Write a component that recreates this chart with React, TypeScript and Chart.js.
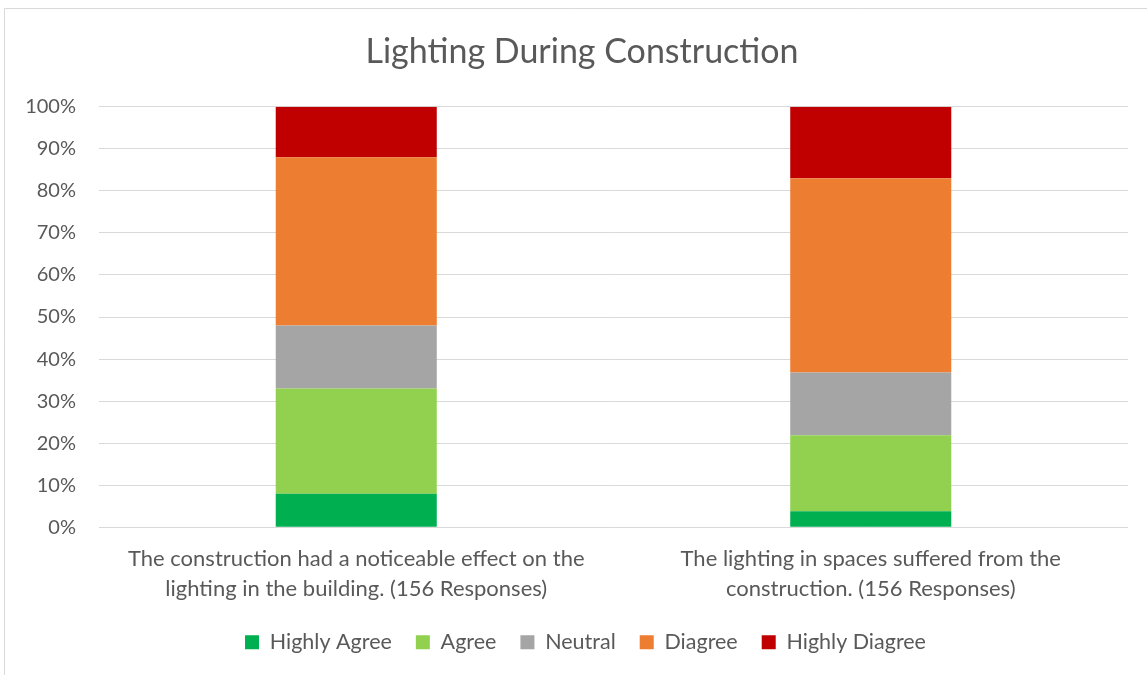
import React, { useEffect, useRef } from "react";
import { Chart, registerables } from "chart.js";

Chart.register(...registerables);

const categories: string[][] = [
  ["The construction had a noticeable effect on the", "lighting in the building. (156 Responses)"],
  ["The lighting in spaces suffered from the", "construction. (156 Responses)"],
];

const seriesNames = ["Highly Agree", "Agree", "Neutral", "Diagree", "Highly Diagree"];
const highlyAgree = [8, 3.8];
const agree = [25, 18.1];
const neutral = [15, 14.9];
const diagree = [40, 46.2];
const highlyDiagree = [12, 17.0];
const seriesColors = ["#00B050", "#92D050", "#A5A5A5", "#ED7D31", "#C00000"];
const yTicks = [0, 10, 20, 30, 40, 50, 60, 70, 80, 90, 100];

const FONT = "Lato, 'Open Sans', sans-serif";
const TEXT = "#595959";

const borderPlugin = {
  id: "frameBorder",
  beforeDraw(chart: any) {
    const ctx = chart.ctx;
    ctx.save();
    ctx.strokeStyle = "#d9d9d9";
    ctx.lineWidth = 1;
    ctx.beginPath();
    ctx.moveTo(4.5, chart.height);
    ctx.lineTo(4.5, 8.5);
    ctx.lineTo(chart.width, 8.5);
    ctx.stroke();
    ctx.restore();
  },
  afterLayout(chart: any) {
    if (chart.legend) {
      chart.legend.left = 43;
    }
    if (chart.titleBlock) {
      chart.titleBlock.left = 36;
    }
  },
};

export default function App() {
  const ref = useRef<HTMLCanvasElement | null>(null);
  useEffect(() => {
    if (!ref.current) return;
    const values = [highlyAgree, agree, neutral, diagree, highlyDiagree];
    const chart = new Chart(ref.current, {
      type: "bar",
      data: {
        labels: categories,
        datasets: seriesNames.map((name, i) => ({
          label: name,
          data: values[i],
          backgroundColor: seriesColors[i],
          borderWidth: 0,
          barPercentage: 1,
          categoryPercentage: 0.313,
        })),
      },
      plugins: [borderPlugin],
      options: {
        animation: false,
        responsive: false,
        maintainAspectRatio: false,
        layout: { padding: { left: 0, right: 19, top: 0, bottom: 12 } },
        plugins: {
          title: {
            display: true,
            text: "Lighting During Construction",
            color: TEXT,
            font: { family: FONT, size: 34, weight: "normal" },
            padding: { top: 31.6, bottom: 34.3 },
          },
          legend: {
            position: "bottom",
            labels: {
              color: TEXT,
              font: { family: FONT, size: 21.5 },
              boxWidth: 14,
              boxHeight: 14,
              padding: 24,
            },
          },
          tooltip: { enabled: false },
        },
        scales: {
          x: {
            stacked: true,
            grid: { display: false },
            border: { display: false },
            ticks: {
              color: TEXT,
              font: { family: FONT, size: 22, lineHeight: 30 / 22 },
              padding: 8.7,
              maxRotation: 0,
              autoSkip: false,
            },
            afterFit(scale: any) {
              scale.height = 607.5 - 527.3;
            },
          },
          y: {
            stacked: true,
            min: 0,
            max: 100,
            afterBuildTicks(scale: any) {
              scale.ticks = yTicks.map((v) => ({ value: v }));
            },
            grid: { color: "#d9d9d9", lineWidth: 1, drawTicks: false },
            border: { display: false },
            ticks: {
              color: TEXT,
              font: { family: FONT, size: 20 },
              padding: 23,
              callback: (v: any) => v + "%",
            },
            afterFit(scale: any) {
              scale.width = 99;
            },
          },
        },
      },
    });
    return () => chart.destroy();
  }, []);
  return (
    <div style={{ position: "fixed", left: 0, top: 0, width: 1147, height: 675, background: "#fff" }}>
      <canvas ref={ref} width={1147} height={675} style={{ display: "block", width: 1147, height: 675 }} />
    </div>
  );
}
